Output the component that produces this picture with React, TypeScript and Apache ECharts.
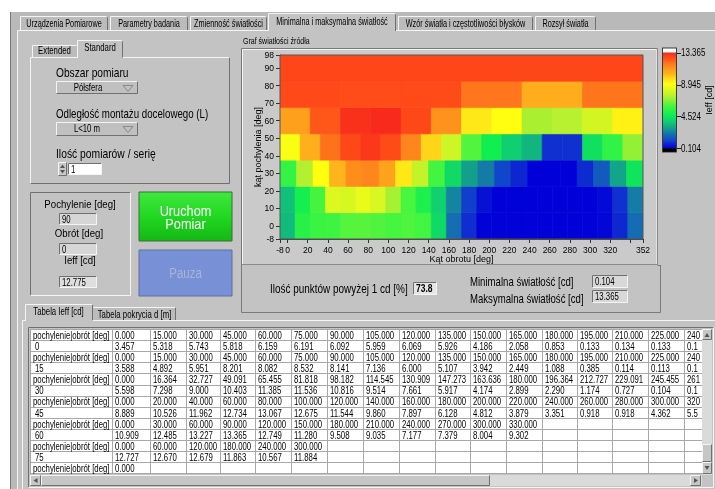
import React, { useEffect, useRef } from 'react';
import * as echarts from 'echarts';

const FONT = "'Liberation Sans', Arial, Helvetica, sans-serif";

// ---------------- data ----------------
const tilts = [0, 15, 30, 45, 60, 75, 90];

const angles0 = [0, 15, 30, 45, 60, 75, 90, 105, 120, 135, 150, 165, 180, 195, 210, 225, 240, 255, 270, 285, 300, 315, 330, 345];
const angles15 = [0, 15, 30, 45, 60, 75, 90, 105, 120, 135, 150, 165, 180, 195, 210, 225, 240, 255, 270, 285, 300, 315, 330, 345];
const angles30 = [0, 16.364, 32.727, 49.091, 65.455, 81.818, 98.182, 114.545, 130.909, 147.273, 163.636, 180, 196.364, 212.727, 229.091, 245.455, 261.818, 278.182, 294.545, 310.909, 327.273, 343.636];
const angles45 = [0, 20, 40, 60, 80, 100, 120, 140, 160, 180, 200, 220, 240, 260, 280, 300, 320, 340];
const angles60 = [0, 30, 60, 90, 120, 150, 180, 210, 240, 270, 300, 330];
const angles75 = [0, 60, 120, 180, 240, 300];
const angles90 = [0];

const ieff0 = [3.457, 5.318, 5.743, 5.818, 6.159, 6.191, 6.092, 5.959, 6.069, 5.926, 4.186, 2.058, 0.853, 0.133, 0.134, 0.133, 0.131, 0.128, 0.125, 0.124, 0.130, 0.210, 0.760, 2.010];
const ieff15 = [3.588, 4.892, 5.951, 8.201, 8.082, 8.532, 8.141, 7.136, 6.000, 5.107, 3.942, 2.449, 1.088, 0.385, 0.114, 0.113, 0.112, 0.110, 0.111, 0.112, 0.118, 0.250, 0.900, 2.300];
const ieff30 = [5.598, 7.298, 9.000, 10.403, 11.385, 11.536, 10.816, 9.514, 7.661, 5.917, 4.174, 2.899, 2.290, 1.174, 0.727, 0.104, 0.120, 0.125, 0.800, 1.600, 3.000, 4.500];
const ieff45 = [8.889, 10.526, 11.962, 12.734, 13.067, 12.675, 11.544, 9.860, 7.897, 6.128, 4.812, 3.879, 3.351, 0.918, 0.918, 4.362, 5.530, 6.900];
const ieff60 = [10.909, 12.485, 13.227, 13.365, 12.749, 11.280, 9.508, 9.035, 7.177, 7.379, 8.004, 9.302];
const ieff75 = [12.727, 12.670, 12.679, 11.863, 10.567, 11.884];
const ieff90 = [12.775];

const rowAngles = [angles0, angles15, angles30, angles45, angles60, angles75, angles90];
const rowValues = [ieff0, ieff15, ieff30, ieff45, ieff60, ieff75, ieff90];

const xTickValues = [-7.5, 0, 20, 40, 60, 80, 100, 120, 140, 160, 180, 200, 220, 240, 260, 280, 300, 320, 340, 352.5];
const xLabelValues = [-7.5, 0, 20, 40, 60, 80, 100, 120, 140, 160, 180, 200, 220, 240, 260, 280, 300, 320, 352.5];
const xLabelTexts = ['-8', '0', '20', '40', '60', '80', '100', '120', '140', '160', '180', '200', '220', '240', '260', '280', '300', '320', '352'];
const yTickValues = [-7.5, 0, 10, 20, 30, 40, 50, 60, 70, 80, 90, 97.5];
const yLabelTexts = ['-8', '0', '10', '20', '30', '40', '50', '60', '70', '80', '90', '98'];

const scaleMin = 0.104;
const scaleMax = 13.365;
const scaleTicks = [13.365, 8.945, 4.524, 0.104];

const pointsAbove1 = '73.8';
const minLabel = '0.104';
const maxLabel = '13.365';
const currentTilt = '90';
const currentRot = '0';
const currentIeff = '12.775';

const topTabs = ['Urządzenia Pomiarowe', 'Parametry badania', 'Zmienność światłości', 'Minimalna i maksymalna światłość', 'Wzór światła i częstotliwości błysków', 'Rozsył światła'];
const HEADER_LABEL = 'pochylenie|obrót [deg]';

// ---------------- colour map (style) ----------------
const cmapVals = [0.104, 0.9, 1.2, 2.1, 2.9, 3.9, 4.8, 5.9, 7.3, 9.0, 9.6, 10.4, 11.4, 12.0, 12.7, 13.365];
const cmapCols = ['#0000d8', '#1030d0', '#1048c8', '#1470b0', '#12a08c', '#10d070', '#10ee50', '#40f540', '#b4f030', '#ffff10', '#ffe418', '#ffb41c', '#ff8c1c', '#ff701c', '#ff4a18', '#f82a1c'];

function hex(c: string) {
  return [parseInt(c.slice(1, 3), 16), parseInt(c.slice(3, 5), 16), parseInt(c.slice(5, 7), 16)];
}
function colorAt(v: number) {
  if (v <= cmapVals[0]) return cmapCols[0];
  for (let i = 1; i < cmapVals.length; i++) {
    if (v <= cmapVals[i]) {
      const t = (v - cmapVals[i - 1]) / (cmapVals[i] - cmapVals[i - 1]);
      const a = hex(cmapCols[i - 1]);
      const b = hex(cmapCols[i]);
      const m = a.map((x, k) => Math.round(x + (b[k] - x) * t));
      return `rgb(${m[0]},${m[1]},${m[2]})`;
    }
  }
  return cmapCols[cmapCols.length - 1];
}

// ---------------- layout constants ----------------
const WIN = '#b9b9b9';
const PAGE = '#c3c3c3';
const TAB = '#bbbbbb';
const HI = '#f4f4f4';
const SH = '#707070';
const SM = 10; // small font
const SMX = 0.78;
const MD = 12;

function buildGraphic() {
  const els: any[] = [];
  const R = (x: number, y: number, w: number, h: number, fill: any, stroke: string | null = null, z = -20) =>
    els.push({ type: 'rect', z, silent: true, shape: { x, y, width: w, height: h }, style: { fill, stroke, lineWidth: 1 } });
  const L = (x1: number, y1: number, x2: number, y2: number, stroke: string, z = -15) =>
    els.push({ type: 'line', z, silent: true, shape: { x1, y1, x2, y2 }, style: { stroke, lineWidth: 1 } });
  const T = (x: number, y: number, text: string, size: number, o: any = {}) =>
    els.push({
      type: 'text', z: 50, silent: true, x, y, scaleX: o.sx ?? 1, rotation: o.rot ?? 0,
      style: {
        text, fontSize: size, fontFamily: FONT, fill: o.color ?? '#000', fontWeight: o.bold ? 'bold' : 'normal',
        textAlign: o.align ?? 'left', align: o.align ?? 'left', textVerticalAlign: 'middle', verticalAlign: 'middle',
      },
    });
  const raised = (x: number, y: number, w: number, h: number, fill: any, z = -18) => {
    R(x, y, w, h, fill, null, z);
    L(x + 0.5, y + 0.5, x + w - 0.5, y + 0.5, HI, z + 1);
    L(x + 0.5, y + 0.5, x + 0.5, y + h - 0.5, HI, z + 1);
    L(x + 0.5, y + h - 0.5, x + w - 0.5, y + h - 0.5, SH, z + 1);
    L(x + w - 0.5, y + 0.5, x + w - 0.5, y + h - 0.5, SH, z + 1);
  };
  const sunken = (x: number, y: number, w: number, h: number, fill: any, z = -18) => {
    R(x, y, w, h, fill, null, z);
    L(x + 0.5, y + 0.5, x + w - 0.5, y + 0.5, SH, z + 1);
    L(x + 0.5, y + 0.5, x + 0.5, y + h - 0.5, SH, z + 1);
    L(x + 0.5, y + h - 0.5, x + w - 0.5, y + h - 0.5, HI, z + 1);
    L(x + w - 0.5, y + 0.5, x + w - 0.5, y + h - 0.5, HI, z + 1);
  };
  const tri = (pts: number[][], z = -10) =>
    els.push({ type: 'polygon', z, silent: true, shape: { points: pts }, style: { fill: '#555', stroke: null } });
  const triOutline = (pts: number[][], z = -10) =>
    els.push({ type: 'polygon', z, silent: true, shape: { points: pts }, style: { fill: 'none', stroke: '#8a8a8a', lineWidth: 1 } });

  // window
  R(0, 0, 715, 489, '#ffffff', null, -40);
  R(10, 12, 705, 477, WIN, null, -39);
  L(10.5, 12, 10.5, 489, '#7a7a7a', -38);
  // main tab page
  R(17, 30, 698, 459, PAGE, null, -37);
  L(17.5, 30.5, 715, 30.5, HI, -36);
  L(17.5, 30.5, 17.5, 489, HI, -36);

  // top tabs
  const tabX = [[20, 108], [110, 188], [190, 267], [268, 396], [398, 533], [535, 596]];
  topTabs.forEach((label, i) => {
    const [x1, x2] = tabX[i];
    const sel = i === 3;
    const y = sel ? 13 : 16;
    const h = sel ? 18 : 14;
    R(x1, y, x2 - x1, h, sel ? PAGE : TAB, null, -30);
    L(x1 + 0.5, y + 0.5, x2 - 1.5, y + 0.5, HI, -29);
    L(x1 + 0.5, y + 0.5, x1 + 0.5, y + h, HI, -29);
    L(x2 - 0.5, y + 1.5, x2 - 0.5, y + h, SH, -29);
    T((x1 + x2) / 2, sel ? 22 : 23.5, label, SM, { sx: 0.73, align: 'center' });
  });

  // inner tab control (Extended / Standard)
  R(30, 57, 200, 127, PAGE, null, -28);
  L(30.5, 57.5, 230, 57.5, HI, -27);
  L(30.5, 57.5, 30.5, 184, HI, -27);
  L(229.5, 57.5, 229.5, 183.5, SH, -27);
  L(30.5, 183.5, 229.5, 183.5, SH, -27);
  R(32, 45, 45, 12, TAB, null, -26);
  L(32.5, 45.5, 76.5, 45.5, HI, -25);
  L(32.5, 45.5, 32.5, 57, HI, -25);
  R(77, 40, 46, 18, PAGE, null, -24);
  L(77.5, 40.5, 121.5, 40.5, HI, -23);
  L(77.5, 40.5, 77.5, 58, HI, -23);
  L(122.5, 41.5, 122.5, 57.5, SH, -23);
  T(54.5, 51, 'Extended', SM, { sx: SMX, align: 'center' });
  T(100, 47.5, 'Standard', SM, { sx: SMX, align: 'center' });

  T(56, 73, 'Obszar pomiaru', MD, { sx: 0.85 });
  raised(56, 81, 82, 13, '#c0c0c0');
  T(88, 87.5, 'Półsfera', SM, { sx: SMX, align: 'center' });
  triOutline([[123, 85.5], [133, 85.5], [128, 91.5]]);

  T(56, 114, 'Odległość montażu docelowego (L)', MD, { sx: 0.81 });
  raised(56, 122, 82, 14, '#c0c0c0');
  T(87, 129, 'L<10 m', SM, { sx: SMX, align: 'center' });
  triOutline([[123, 126.5], [133, 126.5], [128, 132.5]]);

  T(56, 154, 'Ilość pomiarów / serię', MD, { sx: 0.86 });
  raised(58, 162, 9, 14, '#c8c8c8');
  tri([[60, 168], [65, 168], [62.5, 164.5]]);
  tri([[60, 170], [65, 170], [62.5, 173.5]]);
  sunken(68, 163, 34, 12, '#ffffff');
  T(71, 169.5, '1', SM, { sx: SMX });

  // position box
  L(30.5, 192.5, 130.5, 192.5, SH, -27);
  L(30.5, 192.5, 30.5, 295.5, SH, -27);
  L(30.5, 295.5, 130.5, 295.5, HI, -27);
  L(130.5, 192.5, 130.5, 295.5, HI, -27);
  T(80, 204, 'Pochylenie [deg]', 11.5, { sx: 0.84, align: 'center' });
  sunken(59, 213, 38, 12, '#d6d6d6');
  T(62, 219.5, currentTilt, SM, { sx: SMX });
  T(79, 232.5, 'Obrót [deg]', 11.5, { sx: 0.84, align: 'center' });
  sunken(59, 243, 38, 12, '#d6d6d6');
  T(62, 249.5, currentRot, SM, { sx: SMX });
  T(80, 260, 'Ieff [cd]', 11.5, { sx: 0.84, align: 'center' });
  sunken(59, 276, 38, 12, '#dedede');
  T(62, 282.5, currentIeff, SM, { sx: SMX });

  // buttons
  R(139, 192, 93, 49, { type: 'linear', x: 0, y: 0, x2: 0, y2: 1, colorStops: [{ offset: 0, color: '#3ee83e' }, { offset: 0.5, color: '#22d822' }, { offset: 1, color: '#14b814' }] }, '#3b6e3b', -18);
  T(185.5, 211, 'Uruchom', 14.5, { sx: 0.88, align: 'center', color: '#ffffff' });
  T(185.5, 224, 'Pomiar', 14.5, { sx: 0.88, align: 'center', color: '#ffffff' });
  R(139, 250, 93, 46, '#7890d6', '#5f6f9f', -18);
  T(185.5, 273, 'Pauza', 14, { sx: 0.82, align: 'center', color: '#a9b5d8' });

  // graph frame
  T(243, 41, 'Graf światłości źródła', 9, { sx: SMX });
  R(241, 48, 417, 217, '#cacaca', null, -30);
  L(241.5, 48.5, 657.5, 48.5, '#7a7a7a', -29);
  L(241.5, 48.5, 241.5, 265, '#7a7a7a', -29);
  L(242.5, 49.5, 656.5, 49.5, HI, -29);
  L(242.5, 49.5, 242.5, 264, HI, -29);
  L(656.5, 50, 656.5, 264, '#e2e2e2', -29);
  L(657.5, 48.5, 657.5, 265, '#8a8a8a', -29);
  L(241.5, 264.5, 657.5, 264.5, '#8a8a8a', -29);

  // lower info box
  L(241.5, 265, 241.5, 312.5, '#7a7a7a', -29);
  L(241.5, 312.5, 660.5, 312.5, '#7a7a7a', -29);
  L(660.5, 265, 660.5, 312.5, '#7a7a7a', -29);
  L(657.5, 265.5, 660.5, 265.5, '#7a7a7a', -29);
  T(270, 288.5, 'Ilość punktów powyżej 1 cd [%]', MD, { sx: 0.83 });
  sunken(413, 282, 24, 13, '#e6e6e6');
  T(416, 288.5, pointsAbove1, SM, { sx: 0.85, bold: true });
  T(470, 282, 'Minimalna światłość [cd]', MD, { sx: 0.8 });
  T(470, 298.5, 'Maksymalna światłość [cd]', MD, { sx: 0.8 });
  sunken(592, 275, 36, 13, '#d8d8d8');
  T(595, 281.5, minLabel, SM, { sx: SMX });
  sunken(592, 290, 36, 13, '#d8d8d8');
  T(595, 296.5, maxLabel, SM, { sx: SMX });

  // colour bar
  const cbTop = 52.7;
  const cbBot = 148.3;
  R(662, 47.5, 15, 105, '#3a3a3a', null, -12);
  R(663, 48.5, 13, 4.2, '#ffffff', null, -11);
  const stops = cmapVals.map((v, i) => ({ offset: (scaleMax - v) / (scaleMax - scaleMin), color: cmapCols[i] })).reverse();
  R(663, cbTop, 13, cbBot - cbTop, { type: 'linear', x: 0, y: 0, x2: 0, y2: 1, colorStops: stops }, null, -11);
  R(663, cbBot, 13, 3.5, '#000000', null, -11);
  scaleTicks.forEach((v) => {
    const y = cbTop + ((scaleMax - v) / (scaleMax - scaleMin)) * (cbBot - cbTop);
    L(677, Math.round(y) + 0.5, 681, Math.round(y) + 0.5, '#222', -10);
    T(681, y, v.toFixed(3), SM, { sx: 0.8 });
  });
  T(708.5, 100, 'Ieff [cd]', 9, { sx: 1, rot: Math.PI / 2, align: 'center' });

  // bottom tab control
  R(22, 320, 693, 169, PAGE, null, -30);
  L(22.5, 320.5, 715, 320.5, HI, -29);
  L(22.5, 320.5, 22.5, 489, HI, -29);
  R(93, 307, 83, 13, TAB, null, -28);
  L(93.5, 307.5, 175, 307.5, HI, -27);
  L(175.5, 308, 175.5, 320, SH, -27);
  R(25, 304, 68, 17, PAGE, null, -26);
  L(25.5, 304.5, 92, 304.5, HI, -25);
  L(25.5, 304.5, 25.5, 321, HI, -25);
  L(92.5, 305, 92.5, 320, SH, -25);
  T(58.5, 312, 'Tabela Ieff [cd]', SM, { sx: SMX, align: 'center' });
  T(134.5, 314.5, 'Tabela pokrycia d [m]', SM, { sx: SMX, align: 'center' });

  // table
  const tTop = 329;
  const rowH = 11.1;
  const tLeft = 30;
  const tRight = 702;
  const colLines = [30, 112, 150, 186, 220, 255, 291, 327, 363, 399, 435, 470, 506, 542, 577, 612, 648, 684];
  const nDataCols = colLines.length - 1; // 16 full + 1 clipped
  const rows: string[][] = [];
  tilts.forEach((tilt, i) => {
    rows.push([HEADER_LABEL, ...rowAngles[i].slice(0, nDataCols).map((a) => a.toFixed(3))]);
    if (i < tilts.length - 1) rows.push([String(tilt), ...rowValues[i].slice(0, nDataCols).map((v) => v.toFixed(3))]);
  });
  const tBot = tTop + rows.length * rowH;
  sunken(28, 327, 686, 161, PAGE, -22);
  R(tLeft, tTop, tRight - tLeft, tBot - tTop, '#ffffff', null, -20);
  for (let r = 0; r <= rows.length; r++) {
    const y = Math.round(tTop + r * rowH) + 0.5;
    L(tLeft, y, tRight, y, '#a8a8a8', -19);
  }
  colLines.forEach((x) => L(x + 0.5, tTop, x + 0.5, tBot, '#a8a8a8', -19));
  rows.forEach((row, r) => {
    const y = tTop + r * rowH + rowH / 2 + 1;
    row.forEach((s, c) => {
      if (c === 0) {
        T(row[0] === HEADER_LABEL ? 33 : 35, y, s, SM, { sx: SMX });
      } else {
        const txt = c === nDataCols ? s.slice(0, 3) : s;
        T(colLines[c] + 3, y, txt, SM, { sx: SMX });
      }
    });
  });
  // vertical scrollbar
  R(702, tTop, 10, 146, '#dadada', null, -19);
  raised(702, tTop, 10, 11, '#c6c6c6', -17);
  tri([[704.5, 337], [709.5, 337], [707, 333]], -14);
  raised(702, 444, 10, 18, '#c6c6c6', -17);
  raised(702, 462, 10, 12, '#c6c6c6', -17);
  tri([[704.5, 466], [709.5, 466], [707, 470]], -14);
  // horizontal scrollbar
  R(30, 475, 672, 11, '#dadada', null, -19);
  raised(30, 475, 11, 11, '#c6c6c6', -17);
  tri([[37.5, 478], [37.5, 483], [33.5, 480.5]], -14);
  raised(41, 475, 449, 11, '#c6c6c6', -17);
  raised(690, 475, 11, 11, '#c6c6c6', -17);
  tri([[694, 478], [694, 483], [698, 480.5]], -14);
  R(702, 475, 10, 11, PAGE, null, -19);

  return els;
}

// heat-map cells built from the table rows
function buildCells() {
  const cells: number[][] = [];
  rowAngles.forEach((angs, i) => {
    angs.forEach((a, j) => {
      const next = j < angs.length - 1 ? angs[j + 1] : 360;
      cells.push([a, tilts[i], rowValues[i][j], next - a]);
    });
  });
  return cells;
}

export default function App() {
  const ref = useRef<HTMLDivElement>(null);
  useEffect(() => {
    if (!ref.current) return;
    const chart = echarts.init(ref.current, undefined, { renderer: 'svg' });
    const HALF = 7.5;
    const axisFont = { fontSize: 8.5, fontFamily: FONT, color: '#000' };
    const option: any = {
      animation: false,
      backgroundColor: 'transparent',
      grid: { left: 280, top: 55, width: 363, height: 184, show: true, borderColor: '#555', borderWidth: 1, backgroundColor: 'transparent', z: 3 },
      xAxis: {
        type: 'value', min: -7.5, max: 352.5,
        name: 'Kąt obrotu [deg]', nameLocation: 'middle', nameGap: 15, nameMoveOverlap: false, nameTextStyle: { ...axisFont, fontSize: 9 },
        axisLine: { show: true, onZero: false, lineStyle: { color: '#444' } },
        axisTick: { show: true, length: 4, customValues: xTickValues, lineStyle: { color: '#333' } },
        axisLabel: { ...axisFont, margin: 6, customValues: xLabelValues, formatter: (v: number) => xLabelTexts[xLabelValues.indexOf(v)] ?? '' },
        splitLine: { show: false },
      },
      yAxis: {
        type: 'value', min: -7.5, max: 97.5,
        name: 'kąt pochylenia [deg]', nameLocation: 'middle', nameGap: 17.5, nameMoveOverlap: false, nameTextStyle: { ...axisFont, fontSize: 9 },
        axisLine: { show: true, onZero: false, lineStyle: { color: '#444' } },
        axisTick: { show: true, length: 4, customValues: yTickValues, lineStyle: { color: '#333' } },
        axisLabel: { ...axisFont, margin: 6, customValues: yTickValues, formatter: (v: number) => yLabelTexts[yTickValues.indexOf(v)] ?? '' },
        splitLine: { show: false },
      },
      series: [
        {
          type: 'custom',
          clip: true,
          encode: { x: 0, y: 1 },
          data: buildCells(),
          renderItem: (params: any, api: any) => {
            const a = api.value(0);
            const p = api.value(1);
            const v = api.value(2);
            const w = api.value(3);
            const p1 = api.coord([a - HALF, p + HALF]);
            const p2 = api.coord([a - HALF + w, p - HALF]);
            const c = colorAt(v);
            return {
              type: 'rect',
              shape: { x: p1[0], y: p1[1], width: p2[0] - p1[0], height: p2[1] - p1[1] },
              style: { fill: c, stroke: c, lineWidth: 0.6 },
            };
          },
        },
      ],
      graphic: { elements: buildGraphic() },
    };
    chart.setOption(option);
    return () => chart.dispose();
  }, []);
  return <div ref={ref} style={{ position: 'fixed', left: 0, top: 0, width: 715, height: 489 }} />;
}
